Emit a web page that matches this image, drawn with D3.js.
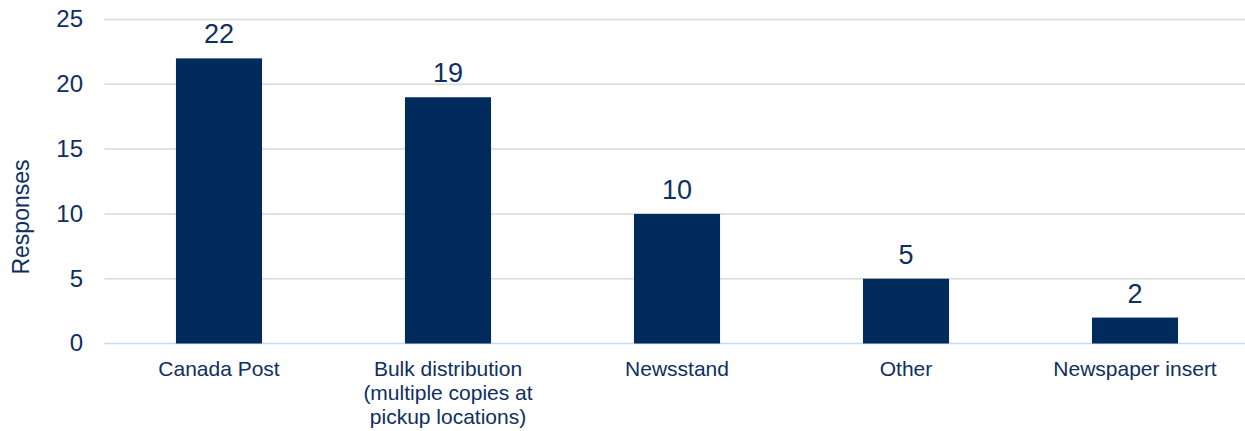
<!DOCTYPE html>
<html><head><meta charset="utf-8">
<script src="https://cdn.jsdelivr.net/npm/d3@7"></script>
<style>body{margin:0;background:#fff;} text{font-family:"Liberation Sans",Arial,sans-serif;}</style>
</head><body>
<svg id="c" width="1245" height="431"></svg>
<script>
const categories = [["Canada Post"], ["Bulk distribution","(multiple copies at","pickup locations)"], ["Newsstand"], ["Other"], ["Newspaper insert"]];
const values = [22, 19, 10, 5, 2];
const yTicks = [0, 5, 10, 15, 20, 25];
const yTitle = "Responses";

const textColor = "#0e2f5f", barColor = "#002b5c";
const svg = d3.select("#c");
const plotLeft = 104.5, plotRight = 1249.5, plotTop = 19.5, plotBottom = 343.5;
const x = d3.scaleBand().domain(d3.range(values.length)).range([plotLeft, plotRight]).paddingInner(0.624).paddingOuter(0.312);
const y = d3.scaleLinear().domain([0, 25]).range([plotBottom, plotTop]);

// gridlines
svg.append("g").selectAll("line").data(yTicks.filter(d => d > 0)).join("line")
  .attr("x1", plotLeft).attr("x2", 1245).attr("y1", d => y(d)).attr("y2", d => y(d))
  .attr("stroke", "#d9d9d9").attr("stroke-width", 1.5);
// zero line
svg.append("line").attr("x1", plotLeft).attr("x2", 1245).attr("y1", y(0)).attr("y2", y(0))
  .attr("stroke", "#c6dbf1").attr("stroke-width", 1.5);

// y tick labels
svg.append("g").selectAll("text").data(yTicks).join("text")
  .attr("x", 83).attr("y", d => y(d)).attr("dy", "0.33em").attr("text-anchor", "end")
  .attr("fill", textColor).attr("font-size", 24).text(d => d);

// y title
svg.append("text").attr("transform", "translate(29,217) rotate(-90)").attr("text-anchor", "middle")
  .attr("fill", textColor).attr("font-size", 23).text(yTitle);

// bars
svg.append("g").selectAll("rect").data(values).join("rect")
  .attr("x", (d, i) => x(i)).attr("width", x.bandwidth())
  .attr("y", d => y(d)).attr("height", d => y(0) - y(d)).attr("fill", barColor);

// value labels
svg.append("g").selectAll("text").data(values).join("text")
  .attr("x", (d, i) => x(i) + x.bandwidth() / 2).attr("y", d => y(d) - 15)
  .attr("text-anchor", "middle").attr("fill", textColor).attr("font-size", 27).text(d => d);

// category labels
const cat = svg.append("g").selectAll("text").data(categories).join("text")
  .attr("x", (d, i) => x(i) + x.bandwidth() / 2).attr("y", 376)
  .attr("text-anchor", "middle").attr("fill", textColor).attr("font-size", 21);
cat.selectAll("tspan").data(d => d).join("tspan")
  .attr("x", function() { return d3.select(this.parentNode).attr("x"); })
  .attr("dy", (d, j) => j === 0 ? 0 : 24).text(d => d);
</script>
</body></html>
